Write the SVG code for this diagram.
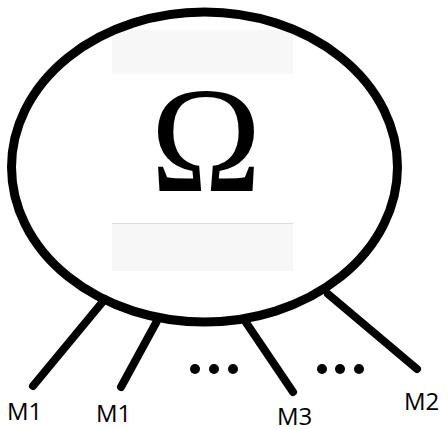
<svg xmlns="http://www.w3.org/2000/svg" width="448" height="429" viewBox="0 0 448 429">
  <style>
    .band { fill: #f7f7f7; }
    .edge { stroke: #000; stroke-width: 8; stroke-linecap: round; fill: none; }
    .dot { fill: #000; }
    .label { font-family: "Open Sans", "Noto Sans", sans-serif; font-size: 24px; fill: #000; }
  </style>
  <rect width="448" height="429" fill="#fff"/>

  <g id="omega-node">
    <rect class="band" x="112" y="30" width="181" height="44"/>
    <rect class="band" x="112" y="223" width="181" height="48"/>
    <line x1="112" y1="223.5" x2="293" y2="223.5" stroke="#dedede" stroke-width="1"/>
    <ellipse cx="204.5" cy="167" rx="193" ry="155" fill="none" stroke="#000" stroke-width="9"/>
    <text x="206" y="191" text-anchor="middle" font-family="Liberation Serif, serif" font-size="150">Ω</text>
  </g>

  <g id="connectors">
    <line class="edge" x1="105" y1="299" x2="33" y2="386"/>
    <line class="edge" x1="157" y1="321" x2="121" y2="387"/>
    <line class="edge" x1="245" y1="321" x2="293" y2="392"/>
    <line class="edge" x1="328" y1="294" x2="417" y2="369"/>
  </g>

  <g id="ellipsis-1">
    <circle class="dot" cx="195" cy="369" r="5"/>
    <circle class="dot" cx="214" cy="369" r="5"/>
    <circle class="dot" cx="233" cy="369" r="5"/>
  </g>
  <g id="ellipsis-2">
    <circle class="dot" cx="322" cy="369" r="5"/>
    <circle class="dot" cx="340" cy="369" r="5"/>
    <circle class="dot" cx="359" cy="369" r="5"/>
  </g>

  <g id="label-m1-a"><text class="label" x="7" y="420">M1</text></g>
  <g id="label-m1-b"><text class="label" x="96" y="422">M1</text></g>
  <g id="label-m3"><text class="label" x="277" y="425">M3</text></g>
  <g id="label-m2"><text class="label" x="404" y="410">M2</text></g>
</svg>
